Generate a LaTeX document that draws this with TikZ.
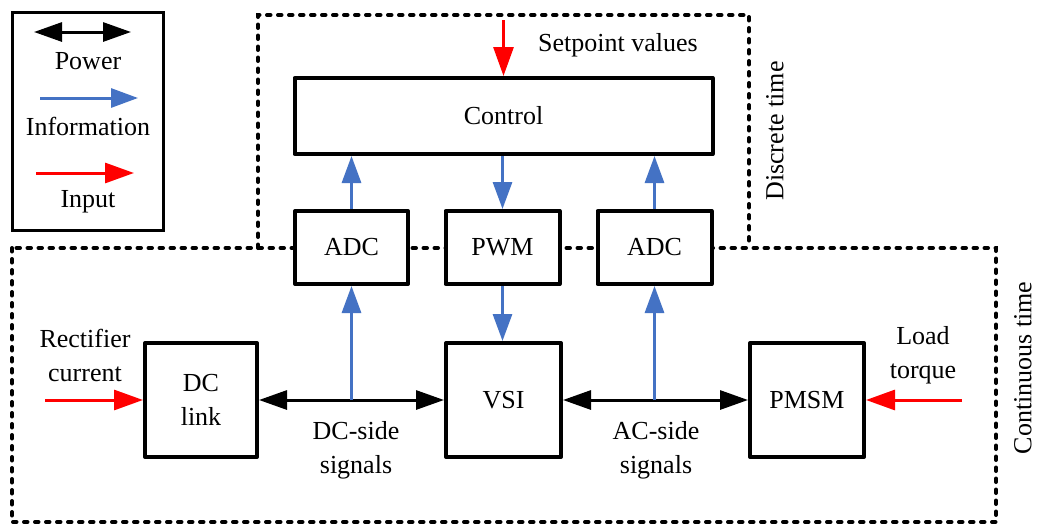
\documentclass[tikz,border=0pt]{standalone}
\usepackage{fontspec}
\setmainfont{Liberation Serif}
\usetikzlibrary{arrows.meta}
\definecolor{infoblue}{HTML}{4472C4}
\definecolor{inred}{HTML}{FF0000}
\begin{document}
\begin{tikzpicture}[x=1pt,y=-1pt,
  every node/.style={font=\fontsize{26}{34}\selectfont},
  blk/.style={draw=black,line width=4pt,fill=white,inner sep=0pt,line join=round},
  lbl/.style={align=center,inner sep=0pt},
  zone/.style={line width=4pt,dash pattern=on 3.5pt off 7.5pt,line cap=round},
  pow/.style={line width=3pt,black,{Triangle[length=28pt,width=19pt]}-{Triangle[length=28pt,width=19pt]}},
  info/.style={line width=3pt,infoblue,-{Triangle[length=27pt,width=19pt]}},
  inp/.style={line width=3pt,inred,-{Triangle[length=29pt,width=20pt]}}]
\useasboundingbox (0,0) rectangle (1037,525);
\fill[white] (0,0) rectangle (1037,525);
% zones
\draw[zone] (12,248) rectangle (996,522);
\draw[zone] (258,248) -- (258,15) -- (749,15) -- (749,248);
\node[lbl,rotate=90] (dt) at (775,131) {Discrete time};
\node[lbl,rotate=90] (ct) at (1023,368) {Continuous time};
% legend
\draw[line width=3pt] (12,12) rectangle (163,230);
\coordinate (l1a) at (34,32); \coordinate (l1b) at (131,32);
\draw[pow] (l1a) -- (l1b);
\node[lbl] (lp) at (88,61) {Power};
\coordinate (l2a) at (40,98); \coordinate (l2b) at (138,98);
\draw[info] (l2a) -- (l2b);
\node[lbl] (li) at (88,126) {Information};
\coordinate (l3a) at (36,173); \coordinate (l3b) at (134,173);
\draw[inp] (l3a) -- (l3b);
\node[lbl] (lin) at (88,202) {Input};
% blocks
\node[blk,minimum width=418pt,minimum height=76pt] (control) at (503.5,116) {Control};
\node[blk,minimum width=113pt,minimum height=73pt] (adc1) at (351.5,247.5) {ADC};
\node[blk,minimum width=114pt,minimum height=73pt] (pwm) at (502.5,247.5) {PWM};
\node[blk,minimum width=114pt,minimum height=73pt] (adc2) at (654.5,247.5) {ADC};
\node[blk,minimum width=112pt,minimum height=114pt,align=center] (dc) at (201,400) {DC\\link};
\node[blk,minimum width=115pt,minimum height=114pt] (vsi) at (503.5,400) {VSI};
\node[blk,minimum width=114pt,minimum height=114pt] (pmsm) at (807,400) {PMSM};
% labels
\node[lbl] (sv) at (618,45) {Setpoint values};
\node[lbl] (rc) at (85,355) {Rectifier\\current};
\node[lbl] (lt) at (923,355) {Load\\torque};
\node[lbl] (dcs) at (356,450) {DC-side\\signals};
\node[lbl] (acs) at (656,450) {AC-side\\signals};
% input arrows
\coordinate (spin) at (503.5,20);
\draw[inp] (spin) -- (control.north);
\coordinate (rcin) at (45,400);
\draw[inp] (rcin) -- (dc.west);
\coordinate (ltin) at (962,400);
\draw[inp] (ltin) -- (pmsm.east);
% power
\draw[pow] (dc.east) -- (vsi.west);
\draw[pow] (vsi.east) -- (pmsm.west);
% information
\draw[info] (adc1.north) -- (adc1.north |- control.south);
\draw[info] (pwm.north |- control.south) -- (pwm.north);
\draw[info] (adc2.north) -- (adc2.north |- control.south);
\coordinate (dctap) at (adc1.south |- dc.east);
\draw[info] (dctap) -- (adc1.south);
\draw[info] (pwm.south) -- (pwm.south |- vsi.north);
\coordinate (actap) at (adc2.south |- vsi.east);
\draw[info] (actap) -- (adc2.south);
\end{tikzpicture}
\end{document}
